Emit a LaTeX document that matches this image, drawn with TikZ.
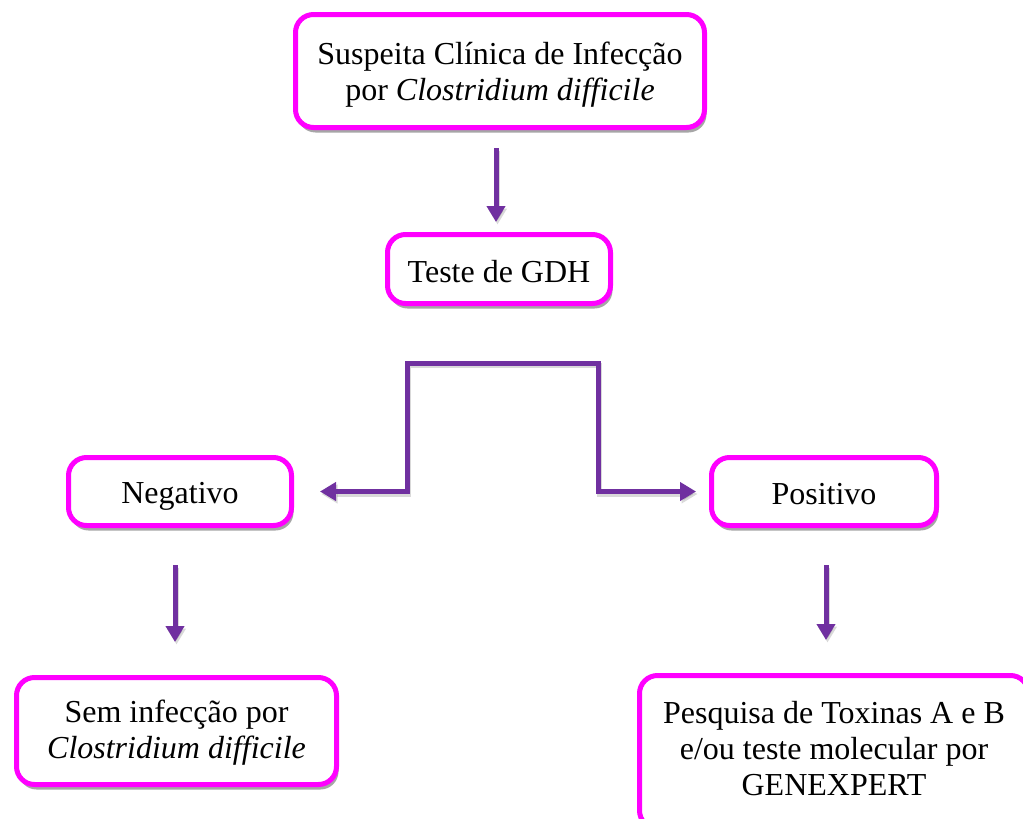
\documentclass[tikz,border=0pt]{standalone}
\usepackage{fontspec}
\setmainfont{Liberation Serif}
\usetikzlibrary{arrows.meta,shadows}
\definecolor{boxpink}{HTML}{FF00FF}
\definecolor{arrpurple}{HTML}{7030A0}
\newcommand{\lowertext}[2]{\raisebox{-#1}[\height][\depth]{#2}}
\tikzset{
  flowbox/.style={draw=boxpink, line width=5pt, rounded corners=18pt, fill=white,
    align=center, inner sep=0pt, font=\fontsize{32}{36}\selectfont,
    drop shadow={shadow xshift=2pt, shadow yshift=-5pt, fill=black, opacity=0.35}},
  arr/.style={draw=arrpurple, line width=5pt, -{Triangle[length=16pt,width=18pt]},
    preaction={draw=black, opacity=0.15, line width=5pt, transform canvas={shift={(1.5pt,-2.5pt)}}}},
}
\begin{document}
\begin{tikzpicture}[x=1pt,y=-1pt]
\useasboundingbox[fill=white] (0,0) rectangle (1023,819);
\node[flowbox, minimum width=409pt, minimum height=113pt] (top) at (500,71)
  {\lowertext{4pt}{\begin{tabular}{@{}c@{}}Suspeita Clínica de Infecção\\por \textit{Clostridium difficile}\end{tabular}}};
\node[flowbox, minimum width=223pt, minimum height=69pt] (gdh) at (499,269) {\lowertext{3pt}{Teste de GDH}};
\node[flowbox, minimum width=223pt, minimum height=68pt] (neg) at (180,491.5) {\lowertext{5pt}{Negativo}};
\node[flowbox, minimum width=225pt, minimum height=68pt] (pos) at (824,491.5) {\lowertext{3pt}{Positivo}};
\node[flowbox, minimum width=320pt, minimum height=107pt] (sem) at (176.5,731)
  {\lowertext{2pt}{\begin{tabular}{@{}c@{}}Sem infecção por\\\textit{Clostridium difficile}\end{tabular}}};
\node[flowbox, minimum width=389pt, minimum height=153pt] (pesq) at (834,752)
  {\begin{tabular}{@{}c@{}}Pesquisa de Toxinas A e B\\e/ou teste molecular por\\GENEXPERT\end{tabular}};
\coordinate (split) at (501,363);
\draw[arr, shorten <=18pt, shorten >=10pt] (top.south -| 496,0) -- (gdh.north -| 496,0);
\draw[arr, shorten >=26pt] (split) -- (407,363) |- (neg.east);
\draw[arr, shorten >=13pt] (split) -- (598,363) |- (pos.west);
\draw[arr, shorten <=37pt, shorten >=33pt] (neg.south -| 175,0) -- (sem.north -| 175,0);
\draw[arr, shorten <=37pt, shorten >=33pt] (pos.south -| 826,0) -- (pesq.north -| 826,0);
\end{tikzpicture}
\end{document}
